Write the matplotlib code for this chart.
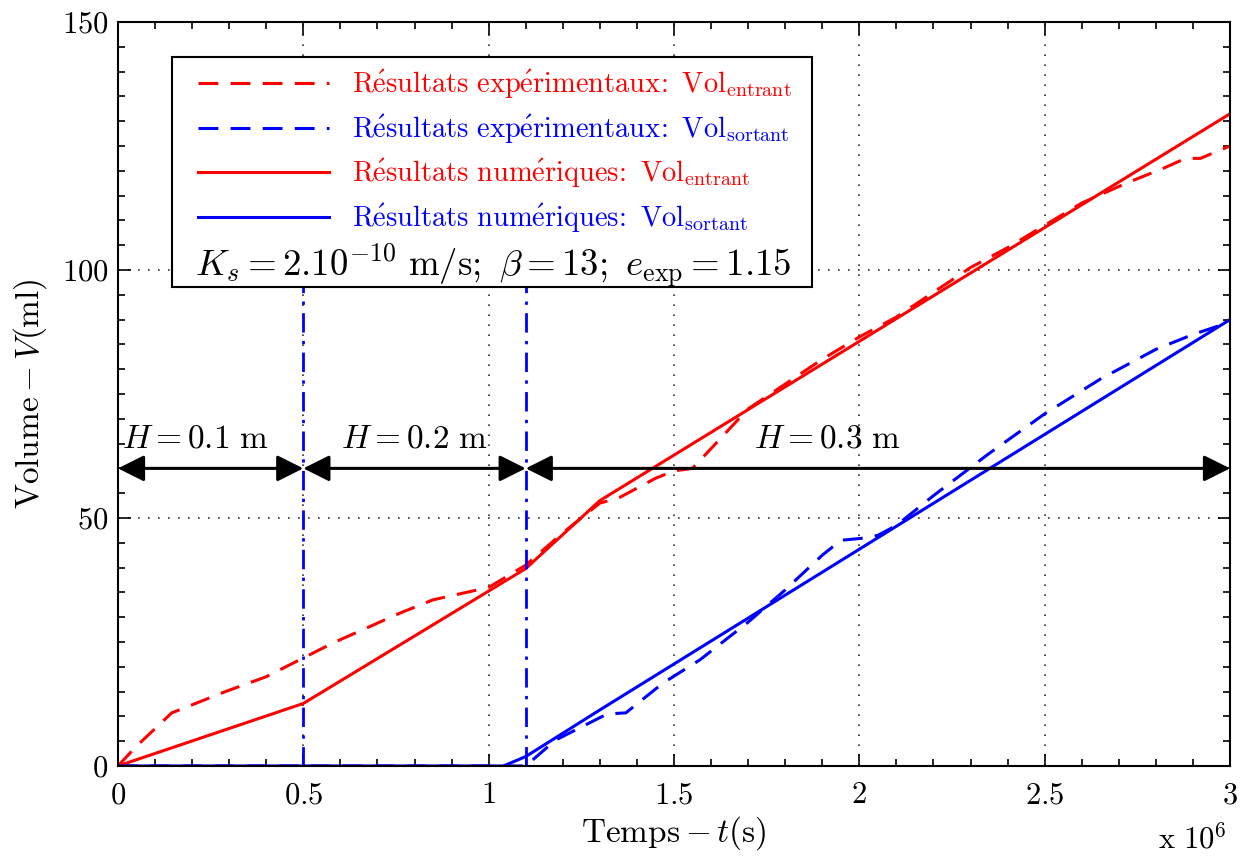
import matplotlib
matplotlib.use("Agg")
import matplotlib.pyplot as plt
from matplotlib.patches import Rectangle
from matplotlib.ticker import MultipleLocator, FuncFormatter
import numpy as np

plt.rcParams['font.family'] = ['Liberation Serif', 'DejaVu Serif']
plt.rcParams['mathtext.fontset'] = 'cm'

# temps en 1e6 s
t_num_in = [0, 0.5, 1.1, 1.3, 3.0]
v_num_in = [0, 12.6, 39.8, 53.5, 131.5]

t_num_out = [0, 1.04, 1.1, 1.3, 3.0]
v_num_out = [0, 0, 1.9, 11.3, 90.0]

t_exp_in = [0, 0.05, 0.145, 0.29, 0.40, 0.49, 0.58, 0.76, 0.85, 1.0, 1.1, 1.2, 1.3, 1.35,
            1.45, 1.5, 1.55, 1.6, 1.7, 1.8, 1.9, 2.0, 2.1, 2.2, 2.3, 2.4, 2.5, 2.6,
            2.66, 2.72, 2.82, 2.88, 2.92, 3.0]
v_exp_in = [0, 4, 10.7, 15, 18, 21.4, 24.8, 30.8, 33.5, 36, 40.5, 47, 53, 54,
            58, 59.5, 60, 64, 72, 77, 82, 86.5, 90.5, 95.5, 100.5, 104.5, 109, 113.5,
            115.5, 117.5, 120.5, 122.5, 122.5, 125]

t_exp_out = [0, 1.1, 1.18, 1.32, 1.37, 1.47, 1.57, 1.7, 1.8, 1.9, 1.95, 2.02, 2.05, 2.1,
             2.2, 2.35, 2.5, 2.65, 2.8, 2.9, 3.0]
v_exp_out = [0, 0, 5.2, 10.5, 10.7, 16.7, 21.4, 29, 35.5, 42.5, 45.5, 46, 46.5, 48.5,
             54.5, 63, 71, 78, 84, 87, 89.5]

h_bounds = [0, 0.5, 1.1, 3.0]
h_labels = [r'$H = 0.1\ \mathrm{m}$', r'$H = 0.2\ \mathrm{m}$', r'$H = 0.3\ \mathrm{m}$']
h_text_x = [0.21, 0.80, 1.915]
h_level = 60

labels = [r'$\mathrm{R\acute{e}sultats\ exp\acute{e}rimentaux\!:\ Vol}_{\mathrm{entrant}}$',
          r'$\mathrm{R\acute{e}sultats\ exp\acute{e}rimentaux\!:\ Vol}_{\mathrm{sortant}}$',
          r'$\mathrm{R\acute{e}sultats\ num\acute{e}riques\!:\ Vol}_{\mathrm{entrant}}$',
          r'$\mathrm{R\acute{e}sultats\ num\acute{e}riques\!:\ Vol}_{\mathrm{sortant}}$']

fig = plt.figure(figsize=(12.47, 8.59), dpi=100)
ax = fig.add_axes([0.0946, 0.1083, 0.8918, 0.8661])

red = (1, 0, 0)
blue = (0, 0, 1)
lw = 2.2
dash = (0, (6.5, 4))

l1, = ax.plot(t_exp_in, v_exp_in, color=red, lw=lw, linestyle=dash)
l2, = ax.plot(t_exp_out, v_exp_out, color=blue, lw=lw, linestyle=dash)
l3, = ax.plot(t_num_in, v_num_in, color=red, lw=lw)
l4, = ax.plot(t_num_out, v_num_out, color=blue, lw=lw)

for xb in h_bounds[1:3]:
    ax.plot([xb, xb], [0, 100], color=blue, lw=2, linestyle=(0, (7, 3, 1.2, 3)))

for i in range(3):
    ax.annotate('', xy=(h_bounds[i], h_level), xytext=(h_bounds[i + 1], h_level),
                arrowprops=dict(arrowstyle='<|-|>', color='black', lw=2.2,
                                mutation_scale=40, shrinkA=0, shrinkB=0))
    ax.text(h_text_x[i], h_level + 2.8, h_labels[i], fontsize=24, ha='center', va='bottom')

ax.set_xlim(0, 3)
ax.set_ylim(0, 150)
ax.xaxis.set_major_locator(MultipleLocator(0.5))
ax.xaxis.set_minor_locator(MultipleLocator(0.1))
ax.yaxis.set_major_locator(MultipleLocator(50))
ax.yaxis.set_minor_locator(MultipleLocator(5))
ax.xaxis.set_major_formatter(FuncFormatter(lambda v, p: '$%g$' % v))
ax.yaxis.set_major_formatter(FuncFormatter(lambda v, p: '$%g$' % v))
ax.tick_params(which='both', direction='in', top=True, right=True, labelsize=22, width=1.2)
ax.tick_params(axis='x', which='major', pad=11)
ax.tick_params(axis='y', which='major', pad=7)
ax.tick_params(which='major', length=9)
ax.tick_params(which='minor', length=5)
ax.grid(True, which='major', linestyle=(0, (1, 5)), color='#333333', lw=1.2)
for s in ax.spines.values():
    s.set_linewidth(1.5)

ax.set_xlabel(r'$\mathrm{Temps}-t\mathrm{(s)}$', fontsize=24, labelpad=3)
ax.set_ylabel(r'$\mathrm{Volume}-V\mathrm{(ml)}$', fontsize=24, labelpad=9)
fig.text(0.929, 0.012, r'$\mathrm{x}\ 10^6$', fontsize=22)

# boite de legende
box = Rectangle((0.0486, 0.644), 0.5755, 0.309, transform=ax.transAxes,
                facecolor='white', edgecolor='black', lw=1.5, zorder=5)
ax.add_patch(box)
leg = ax.legend([l1, l2, l3, l4], labels, loc='upper left', bbox_to_anchor=(0.062, 0.953),
                frameon=False, fontsize=20.5, handlelength=4.6, handletextpad=0.8,
                labelspacing=0.40, borderaxespad=0)
leg.set_zorder(6)
for txt, c in zip(leg.get_texts(), [red, blue, red, blue]):
    txt.set_color(c)
ax.text(0.069, 0.659, r'$K_s = 2.10^{-10}\ \mathrm{m/s};\ \beta = 13;\ e_{\mathrm{exp}} = 1.15$',
        transform=ax.transAxes, fontsize=26.5, zorder=7)

fig.savefig('out.png', dpi=100)
